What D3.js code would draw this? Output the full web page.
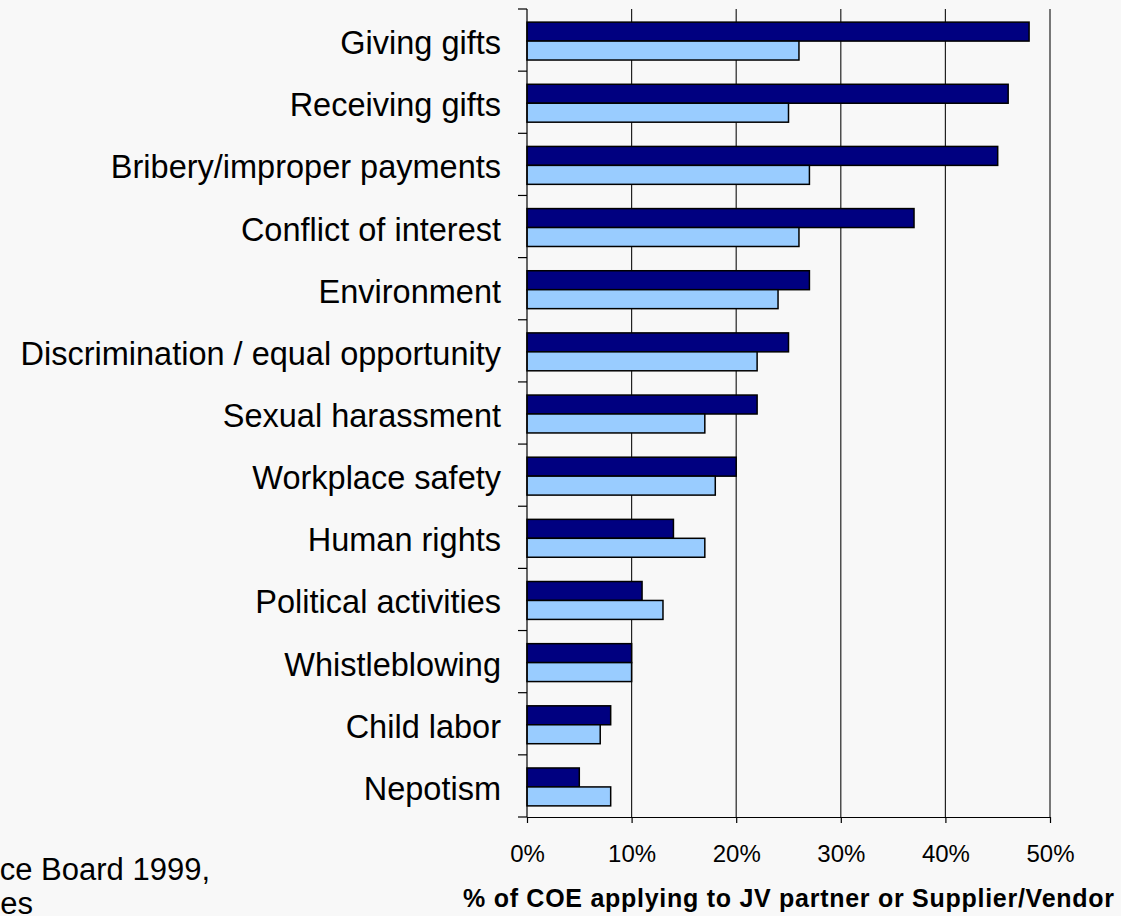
<!DOCTYPE html>
<html>
<head>
<meta charset="utf-8">
<script src="https://cdn.jsdelivr.net/npm/d3@7"></script>
<style>
  body { margin: 0; background: #f8f8f8; overflow: hidden; }
  svg text { font-family: "Liberation Sans", Arial, sans-serif; fill: #000; }
</style>
</head>
<body>
<svg></svg>
<script>
// values (% of codes of ethics)
const categories = [
  'Giving gifts', 'Receiving gifts', 'Bribery/improper payments', 'Conflict of interest',
  'Environment', 'Discrimination / equal opportunity', 'Sexual harassment', 'Workplace safety',
  'Human rights', 'Political activities', 'Whistleblowing', 'Child labor', 'Nepotism'
]
const jvPartner = [48, 46, 45, 37, 27, 25, 22, 20, 14, 11, 10, 8, 5]
const supplierVendor = [26, 25, 27, 26, 24, 22, 17, 18, 17, 13, 10, 7, 8]
const seriesNames = ['JV partner', 'Supplier/Vendor']
const seriesColors = ['#000080', '#99ccff']
const xTicks = [0, 10, 20, 30, 40, 50]
const axisTitle = '% of COE applying to JV partner or Supplier/Vendor'
const sourceLines = ['ce Board 1999,', 'es']

const width = 1121, height = 916
const svg = d3.select('svg').attr('width', width).attr('height', height)

const plot = { left: 527, right: 1050, top: 9, bottom: 817 }

const xScale = d3.scaleLinear()
  .domain([0, 50])
  .range([plot.left, plot.right])

const yScale = d3.scaleBand()
  .domain(categories)
  .range([plot.top, plot.bottom])

const ySub = d3.scaleBand()
  .domain(seriesNames)
  .range([0, yScale.bandwidth()])
  .paddingOuter(0.64)

const rows = categories.map((c, i) => ({
  cat: c,
  vals: [
    { name: seriesNames[0], v: jvPartner[i], color: seriesColors[0] },
    { name: seriesNames[1], v: supplierVendor[i], color: seriesColors[1] }
  ]
}))

// gridlines
svg.append('g')
  .selectAll('line')
  .data(xTicks.filter(d => d > 0))
  .enter().append('line')
  .attr('x1', d => xScale(d)).attr('x2', d => xScale(d))
  .attr('y1', plot.top).attr('y2', plot.bottom)
  .attr('stroke', '#222')
  .attr('stroke-width', 1.2)

// bars
const rowG = svg.append('g')
  .selectAll('g')
  .data(rows)
  .enter().append('g')
  .attr('transform', d => `translate(0,${yScale(d.cat) + 1})`)

rowG.selectAll('rect')
  .data(d => d.vals)
  .enter().append('rect')
  .attr('x', xScale(0))
  .attr('y', d => ySub(d.name))
  .attr('width', d => xScale(d.v) - xScale(0))
  .attr('height', ySub.bandwidth())
  .attr('fill', d => d.color)
  .attr('stroke', '#000')
  .attr('stroke-width', 1.5)

// bottom axis
const xAxis = d3.axisBottom(xScale)
  .tickValues(xTicks)
  .tickFormat(d => d + '%')
  .tickSize(6)
  .tickSizeOuter(0)
  .tickPadding(22)

const xAxisG = svg.append('g')
  .attr('transform', `translate(0,${plot.bottom})`)
  .call(xAxis)
xAxisG.select('.domain').attr('stroke', '#000').attr('stroke-width', 1.2)
xAxisG.selectAll('.tick line').attr('stroke', '#000').attr('stroke-width', 1.2)
xAxisG.selectAll('.tick text')
  .attr('font-size', 24)
  .attr('fill', '#000')
  .attr('font-family', '"Liberation Sans", Arial, sans-serif')

// left axis: line, ticks between categories, labels
const yAxisG = svg.append('g')
yAxisG.append('line')
  .attr('x1', plot.left).attr('x2', plot.left)
  .attr('y1', plot.top).attr('y2', plot.bottom)
  .attr('stroke', '#000').attr('stroke-width', 1.2)

yAxisG.selectAll('.ytick')
  .data(categories.map(c => yScale(c)).concat([plot.bottom]))
  .enter().append('line')
  .attr('class', 'ytick')
  .attr('x1', plot.left - 9).attr('x2', plot.left)
  .attr('y1', d => d).attr('y2', d => d)
  .attr('stroke', '#000').attr('stroke-width', 1.2)

yAxisG.selectAll('text')
  .data(categories)
  .enter().append('text')
  .attr('x', 501)
  .attr('y', d => yScale(d) + yScale.bandwidth() / 2 + 14)
  .attr('text-anchor', 'end')
  .attr('font-size', 32.5)
  .text(d => d)

// axis title
svg.append('text')
  .attr('x', (plot.left + plot.right) / 2)
  .attr('y', 907)
  .attr('text-anchor', 'middle')
  .attr('font-size', 25)
  .attr('font-weight', 'bold')
  .attr('textLength', 651)
  .attr('lengthAdjust', 'spacing')
  .text(axisTitle)

// source note (cut off at the left edge)
svg.append('g')
  .selectAll('text')
  .data(sourceLines)
  .enter().append('text')
  .attr('x', (d, i) => i === 0 ? 210 : 33)
  .attr('y', (d, i) => 880 + i * 34)
  .attr('text-anchor', 'end')
  .attr('font-size', 31)
  .text(d => d)
</script>
</body>
</html>
